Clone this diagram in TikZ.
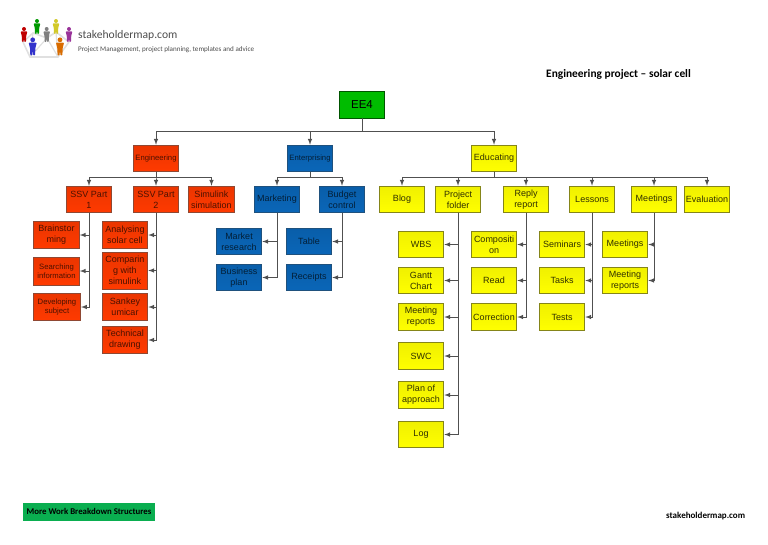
\documentclass[tikz,border=0pt]{standalone}
\usepackage{fontspec}
\setmainfont{Liberation Sans}
\newfontfamily\logofont{Carlito}
\definecolor{eered}{HTML}{FF3A00}
\definecolor{eeblue}{HTML}{0A66B8}
\definecolor{eeyellow}{HTML}{F0F000}
\definecolor{eegreen}{HTML}{00BC00}
\definecolor{moregreen}{HTML}{0AAE50}
\definecolor{linegrey}{HTML}{505050}
\tikzset{
  ebox/.style={draw,line width=1pt,minimum width=45.5pt,minimum height=26.5pt,inner sep=0pt,align=center,font=\fontsize{9}{11}\selectfont},
  redbox/.style={ebox,draw=eered!45!black!80,top color=eered!92!black,bottom color=eered,text=eered!30!black},
  bluebox/.style={ebox,draw=eeblue!60!black!90,top color=eeblue!92!black,bottom color=eeblue,text=eeblue!30!black},
  yellowbox/.style={ebox,draw=eeyellow!50!black!90,top color=eeyellow,bottom color=yellow,text=eeyellow!20!black},
  smalltext/.style={font=\fontsize{7.7}{9.5}\selectfont},
  conn/.style={draw=linegrey,line width=1pt,->},
  logotext/.style={inner sep=0pt,anchor=west,text=black!70}
}
\begin{document}
\begin{tikzpicture}[x=1pt,y=-1pt,line cap=round,>=latex]
  \useasboundingbox (0,0) rectangle (768,544);
  % logo
  \draw[black!12,line width=1.6pt,line join=round] (23,42) -- (33,33) -- (47,38) -- (56,32) -- (69,42) -- (58,57) -- (30,57) -- cycle;
  \draw[black!12,line width=1.2pt] (33,33) -- (30,57) (47,38) -- (30,57) (47,38) -- (58,57) (56,32) -- (58,57);
  \foreach \px/\py/\pcol/\ps in {24/35/red!75!black/1,37/27/green!60!black/1,46.7/35/gray/1,56/27/yellow!80!black/1,69/35/violet!80/1,32.7/47/blue!60!gray/1.2,60/47/orange!85!black/1.2} {
    \fill[\pcol] (\px,\py-6*\ps) circle (2*\ps);
    \fill[\pcol,rounded corners=0.8pt] (\px-3.4*\ps,\py-3.6*\ps) -- (\px+3.4*\ps,\py-3.6*\ps) -- (\px+2.2*\ps,\py+1*\ps) -- (\px+2*\ps,\py+7*\ps) -- (\px+0.4*\ps,\py+7*\ps) -- (\px,\py+2*\ps) -- (\px-0.4*\ps,\py+7*\ps) -- (\px-2*\ps,\py+7*\ps) -- (\px-2.2*\ps,\py+1*\ps) -- cycle;
  }
  \node[logotext,font=\logofont\fontsize{11.6}{14}\selectfont] (logoname) at (78,35) {stakeholdermap.com};
  \node[logotext,font=\logofont\fontsize{7.1}{9}\selectfont] (logoline) at (78,50) {Project Management, project planning, templates and advice};
  \node[inner sep=0pt,anchor=west,font=\logofont\bfseries\fontsize{11.4}{13}\selectfont] (title) at (546,74) {Engineering project – solar cell};
  % top levels
  \node[ebox,draw=eegreen!45!black,top color=eegreen,bottom color=eegreen,font=\fontsize{11.5}{14}\selectfont] (ee4) at (362,105) {EE4};
  \node[redbox,smalltext] (eng) at (156,158.5) {Engineering};
  \node[bluebox,smalltext] (ent) at (310,158.5) {Enterprising};
  \node[yellowbox] (edu) at (494,158.5) {Educating};
  \foreach \child in {eng,ent,edu}
    \draw[conn] (ee4.south) -- ++(0,12.5) -| (\child.north);
  % engineering
  \node[redbox] (ssva) at (89,199.5) {SSV Part\\1};
  \node[redbox] (ssvb) at (156,199.5) {SSV Part\\2};
  \node[redbox] (simu) at (211.5,199.5) {Simulink\\simulation};
  \foreach \child in {ssva,ssvb,simu}
    \draw[conn] (eng.south) -- ++(0,5.5) -| (\child.north);
  \node[redbox] (brain) at (56.5,235) {Brainstor\\ming};
  \node[redbox,smalltext,minimum height=28pt] (search) at (56.5,271) {Searching\\information};
  \node[redbox,smalltext,minimum width=47pt] (devel) at (57,307) {Developing\\subject};
  \foreach \child in {brain,search,devel}
    \draw[conn] (ssva.south) |- (\child.east);
  \node[redbox] (analys) at (125,235) {Analysing\\solar cell};
  \node[redbox,minimum height=37pt] (compar) at (125,270.5) {Comparin\\g with\\simulink};
  \node[redbox] (sankey) at (125,307) {Sankey\\umicar};
  \node[redbox] (techn) at (125,340) {Technical\\drawing};
  \foreach \child in {analys,compar,sankey,techn}
    \draw[conn] (ssvb.south) |- (\child.east);
  % enterprising
  \node[bluebox] (market) at (277,199.5) {Marketing};
  \node[bluebox] (budget) at (342,199.5) {Budget\\control};
  \foreach \child in {market,budget}
    \draw[conn] (ent.south) -- ++(0,5.5) -| (\child.north);
  \node[bluebox] (research) at (239,241.5) {Market\\research};
  \node[bluebox] (bizplan) at (239,277.5) {Business\\plan};
  \foreach \child in {research,bizplan}
    \draw[conn] (market.south) |- (\child.east);
  \node[bluebox] (table) at (309,241.5) {Table};
  \node[bluebox] (receipts) at (309,277.5) {Receipts};
  \foreach \child in {table,receipts}
    \draw[conn] (budget.south) |- (\child.east);
  % educating
  \node[yellowbox] (blog) at (402,199.5) {Blog};
  \node[yellowbox] (folder) at (458,199.5) {Project\\folder};
  \node[yellowbox] (reply) at (526,199.5) {Reply\\report};
  \node[yellowbox] (lessons) at (592,199.5) {Lessons};
  \node[yellowbox] (meet) at (654,199.5) {Meetings};
  \node[yellowbox] (eval) at (707,199.5) {Evaluation};
  \foreach \child in {blog,folder,reply,lessons,meet,eval}
    \draw[conn] (edu.south) -- ++(0,5.5) -| (\child.north);
  \node[yellowbox] (wbs) at (421,244.5) {WBS};
  \node[yellowbox] (gantt) at (421,280.5) {Gantt\\Chart};
  \node[yellowbox] (freports) at (421,317) {Meeting\\reports};
  \node[yellowbox] (swc) at (421,356) {SWC};
  \node[yellowbox] (plan) at (421,395) {Plan of\\approach};
  \node[yellowbox] (log) at (421,434.5) {Log};
  \foreach \child in {wbs,gantt,freports,swc,plan,log}
    \draw[conn] (folder.south) |- (\child.east);
  \node[yellowbox] (compo) at (494,244.5) {Compositi\\on};
  \node[yellowbox] (read) at (494,280.5) {Read};
  \node[yellowbox] (correct) at (494,317) {Correction};
  \foreach \child in {compo,read,correct}
    \draw[conn] (reply.south) |- (\child.east);
  \node[yellowbox] (semin) at (562,244.5) {Seminars};
  \node[yellowbox] (tasks) at (562,280.5) {Tasks};
  \node[yellowbox] (tests) at (562,317) {Tests};
  \foreach \child in {semin,tasks,tests}
    \draw[conn] (lessons.south) |- (\child.east);
  \node[yellowbox] (meetb) at (625,244.5) {Meetings};
  \node[yellowbox] (mreports) at (625,280.5) {Meeting\\reports};
  \foreach \child in {meetb,mreports}
    \draw[conn] (meet.south) |- (\child.east);
  % footer
  \node[fill=moregreen,minimum width=132pt,minimum height=18pt,inner sep=0pt,font=\logofont\bfseries\fontsize{8.8}{10}\selectfont] (more) at (89,511.5) {More Work Breakdown Structures};
  \node[inner sep=0pt,anchor=west,font=\logofont\bfseries\fontsize{9}{10}\selectfont] (footer) at (666,516) {stakeholdermap.com};
\end{tikzpicture}
\end{document}
